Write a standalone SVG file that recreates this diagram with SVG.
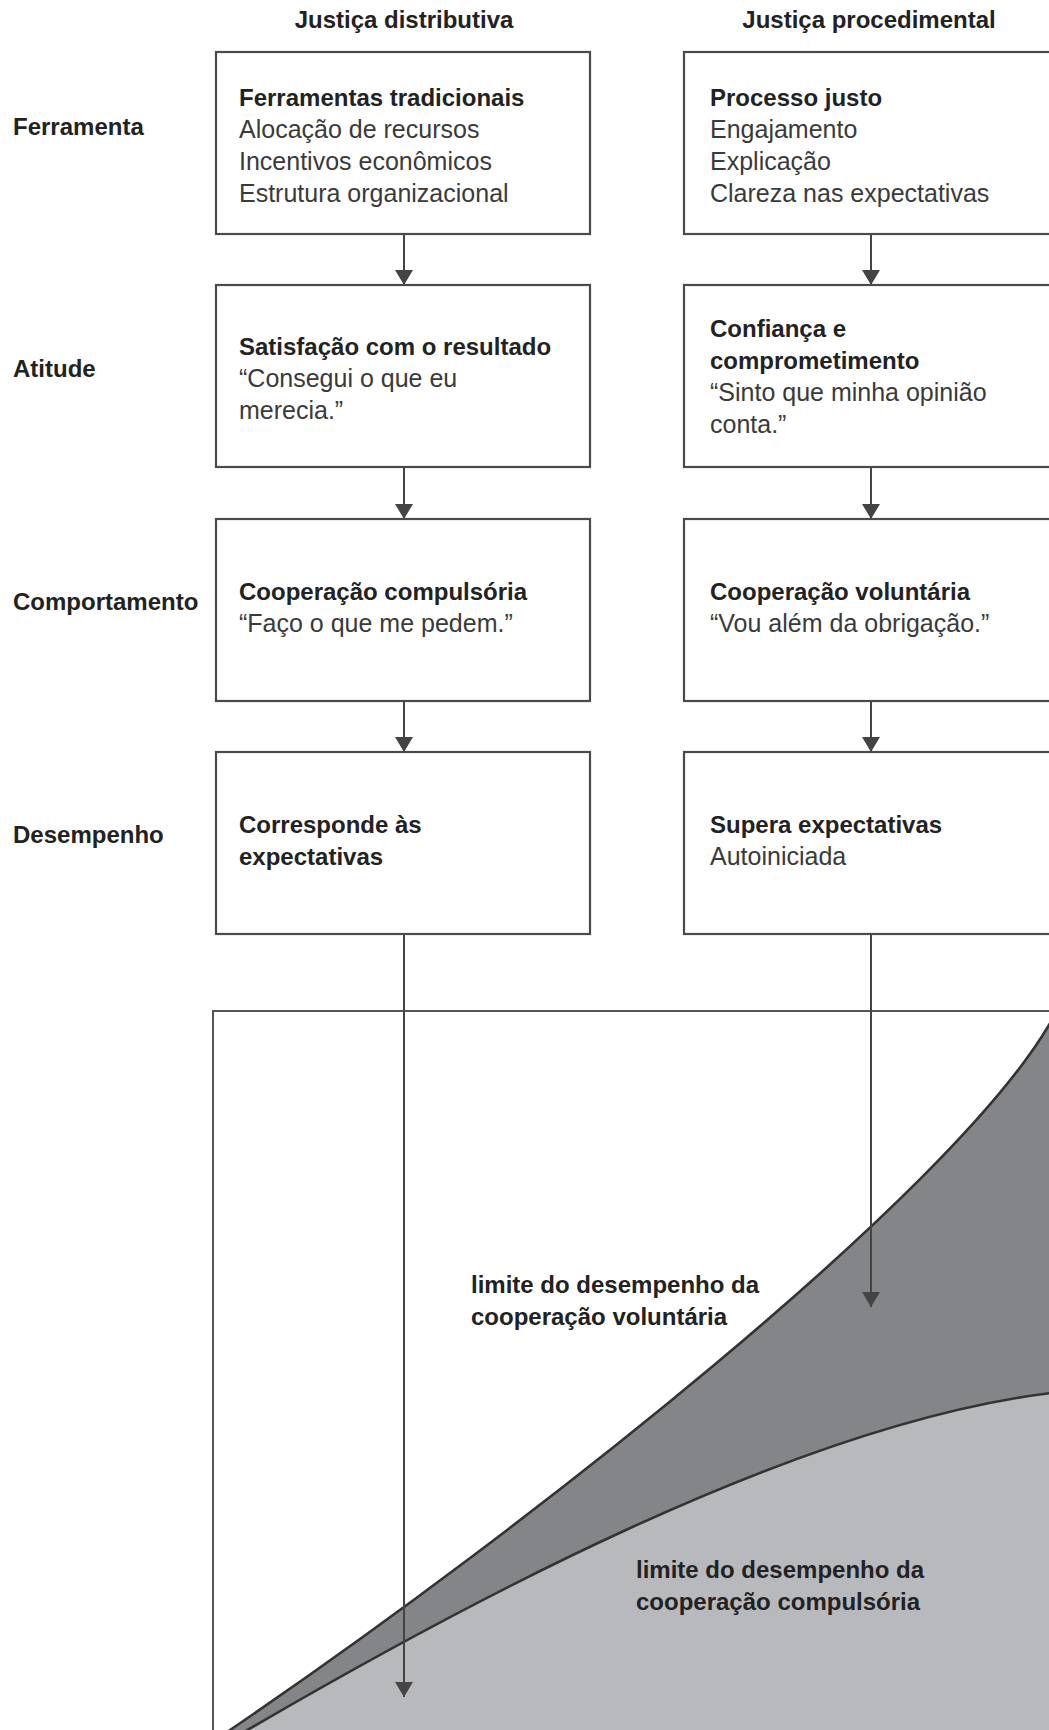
<svg xmlns="http://www.w3.org/2000/svg" width="1049" height="1730" viewBox="0 0 1049 1730">
<style>
  text { font-family: "Liberation Sans", Arial, sans-serif; font-size: 24px; }
  .b { font-weight: bold; fill: #222; }
  .r { fill: #3a3a3a; font-size: 25px; }
  .hd { font-weight: bold; fill: #222; text-anchor: middle; }
  .box { fill: #fff; stroke: #4a4a4a; stroke-width: 2.2; }
  .conn { stroke: #444; stroke-width: 2; fill: none; }
  .frame { fill: #fff; stroke: #555; stroke-width: 2; }
  .curve { fill: none; stroke: #333; stroke-width: 2.6; }
  .lbl { font-weight: bold; fill: #222; font-size: 24px; }
</style>
<defs>
  <marker id="arr" markerUnits="userSpaceOnUse" markerWidth="15" markerHeight="18" viewBox="0 0 15 18" refX="15" refY="9" orient="auto">
    <path d="M0,0 L15,9 L0,18 Z" fill="#444"/>
  </marker>
  <clipPath id="chartclip"><rect x="213" y="1011" width="900" height="800"/></clipPath>
</defs>
<rect width="1049" height="1730" fill="#fff"/>

<!-- headers -->
<text class="hd" x="404" y="28">Justiça distributiva</text>
<text class="hd" x="869" y="28">Justiça procedimental</text>

<!-- row labels -->
<g id="row-labels">
  <text class="b" x="13" y="135">Ferramenta</text>
  <text class="b" x="13" y="377">Atitude</text>
  <text class="b" x="13" y="610">Comportamento</text>
  <text class="b" x="13" y="843">Desempenho</text>
</g>

<!-- chart -->
<g id="chart">
  <rect class="frame" x="213" y="1011" width="900" height="800"/>
  <g clip-path="url(#chartclip)">
    <path d="M205,1747 L230,1730 C530,1526 949,1195 1049,1025 L1070,989 L1120,989 L1120,1760 L205,1760 Z" fill="#848589"/>
    <path d="M210,1752 C450,1610 800,1420 1060,1392 L1120,1392 L1120,1760 L210,1760 Z" fill="#b8b9bd"/>
    <path class="curve" d="M205,1747 L230,1730 C530,1526 949,1195 1049,1025 L1070,989"/>
    <path class="curve" d="M210,1752 C450,1610 800,1420 1060,1392 L1120,1392"/>
  </g>
  <text class="lbl" x="471" y="1293">limite do desempenho da</text>
  <text class="lbl" x="471" y="1325">cooperação voluntária</text>
  <text class="lbl" x="636" y="1578">limite do desempenho da</text>
  <text class="lbl" x="636" y="1610">cooperação compulsória</text>
</g>

<!-- connectors -->
<g id="connectors">
  <line class="conn" x1="404" y1="234" x2="404" y2="285" marker-end="url(#arr)"/>
  <line class="conn" x1="404" y1="467" x2="404" y2="519" marker-end="url(#arr)"/>
  <line class="conn" x1="404" y1="701" x2="404" y2="752" marker-end="url(#arr)"/>
  <line class="conn" x1="404" y1="934" x2="404" y2="1697" marker-end="url(#arr)"/>
  <line class="conn" x1="871" y1="234" x2="871" y2="285" marker-end="url(#arr)"/>
  <line class="conn" x1="871" y1="467" x2="871" y2="519" marker-end="url(#arr)"/>
  <line class="conn" x1="871" y1="701" x2="871" y2="752" marker-end="url(#arr)"/>
  <line class="conn" x1="871" y1="934" x2="871" y2="1307" marker-end="url(#arr)"/>
</g>

<!-- left column -->
<g id="node-ferramentas-tradicionais">
  <rect class="box" x="216" y="52" width="374" height="182"/>
  <text class="b" x="239" y="106">Ferramentas tradicionais</text>
  <text class="r" x="239" y="138">Alocação de recursos</text>
  <text class="r" x="239" y="170">Incentivos econômicos</text>
  <text class="r" x="239" y="202">Estrutura organizacional</text>
</g>
<g id="node-satisfacao">
  <rect class="box" x="216" y="285" width="374" height="182"/>
  <text class="b" x="239" y="355">Satisfação com o resultado</text>
  <text class="r" x="239" y="387">“Consegui o que eu</text>
  <text class="r" x="239" y="419">merecia.”</text>
</g>
<g id="node-coop-compulsoria">
  <rect class="box" x="216" y="519" width="374" height="182"/>
  <text class="b" x="239" y="600">Cooperação compulsória</text>
  <text class="r" x="239" y="632">“Faço o que me pedem.”</text>
</g>
<g id="node-corresponde">
  <rect class="box" x="216" y="752" width="374" height="182"/>
  <text class="b" x="239" y="833">Corresponde às</text>
  <text class="b" x="239" y="865">expectativas</text>
</g>

<!-- right column -->
<g id="node-processo-justo">
  <rect class="box" x="684" y="52" width="374" height="182"/>
  <text class="b" x="710" y="106">Processo justo</text>
  <text class="r" x="710" y="138">Engajamento</text>
  <text class="r" x="710" y="170">Explicação</text>
  <text class="r" x="710" y="202">Clareza nas expectativas</text>
</g>
<g id="node-confianca">
  <rect class="box" x="684" y="285" width="374" height="182"/>
  <text class="b" x="710" y="337">Confiança e</text>
  <text class="b" x="710" y="369">comprometimento</text>
  <text class="r" x="710" y="401">“Sinto que minha opinião</text>
  <text class="r" x="710" y="433">conta.”</text>
</g>
<g id="node-coop-voluntaria">
  <rect class="box" x="684" y="519" width="374" height="182"/>
  <text class="b" x="710" y="600">Cooperação voluntária</text>
  <text class="r" x="710" y="632">“Vou além da obrigação.”</text>
</g>
<g id="node-supera">
  <rect class="box" x="684" y="752" width="374" height="182"/>
  <text class="b" x="710" y="833">Supera expectativas</text>
  <text class="r" x="710" y="865">Autoiniciada</text>
</g>
</svg>
